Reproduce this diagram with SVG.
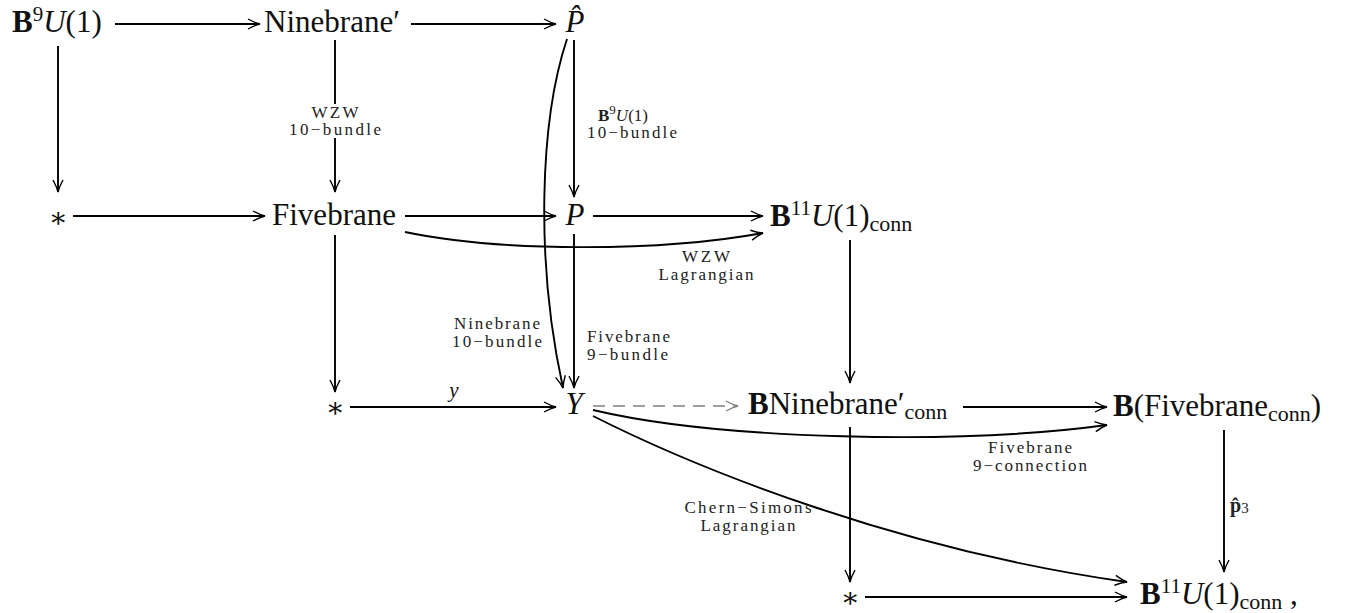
<svg xmlns="http://www.w3.org/2000/svg" width="1360" height="613" viewBox="0 0 1360 613">
<defs>
<marker id="ah" viewBox="-14 -7 16 14" markerWidth="16" markerHeight="14" refX="0" refY="0" orient="auto" markerUnits="userSpaceOnUse">
<path d="M-12,-5 Q-5,-1.2 0,0 Q-5,1.2 -12,5" fill="none" stroke="#000" stroke-width="1.4"/>
</marker>
<marker id="ahg" viewBox="-14 -7 16 14" markerWidth="16" markerHeight="14" refX="0" refY="0" orient="auto" markerUnits="userSpaceOnUse">
<path d="M-12,-5 Q-5,-1.2 0,0 Q-5,1.2 -12,5" fill="none" stroke="#808080" stroke-width="1.4"/>
</marker>
</defs>
<style>
.n{font-family:"Liberation Serif","DejaVu Serif",serif;font-size:31px;fill:#111}
.b{font-weight:bold}
.i{font-style:italic}
.sup{font-size:21px}
.sub{font-size:22px}
.l{font-family:"Liberation Serif","DejaVu Serif",serif;font-size:17px;fill:#222}
.yl{font-family:"Liberation Serif","DejaVu Serif",serif;font-size:21px;font-style:italic;fill:#111}
.c{fill:none;stroke:#000;stroke-width:1.9;marker-end:url(#ah)}
.d{fill:none;stroke:#808080;stroke-width:1.7;stroke-dasharray:12 8;marker-end:url(#ahg)}
.ast{font-family:"DejaVu Serif",serif;font-size:28px;fill:#111}
</style>

<g id="connectors">
<line class="c" x1="115" y1="24" x2="260" y2="24"/>
<line class="c" x1="411" y1="24" x2="556" y2="24"/>
<line class="c" x1="58" y1="46" x2="58" y2="192"/>
<line class="c" x1="335" y1="40" x2="335" y2="192"/>
<line class="c" x1="574" y1="40" x2="574" y2="197"/>
<line class="c" x1="73" y1="216" x2="265" y2="216"/>
<line class="c" x1="405" y1="216" x2="556" y2="216"/>
<line class="c" x1="593" y1="216" x2="763" y2="216"/>
<line class="c" x1="335" y1="235" x2="335" y2="392"/>
<line class="c" x1="574" y1="234" x2="574" y2="388"/>
<line class="c" x1="350" y1="407" x2="556" y2="407"/>
<line class="d" x1="593" y1="406" x2="738" y2="406"/>
<line class="c" x1="850" y1="240" x2="850" y2="383"/>
<line class="c" x1="963" y1="407" x2="1107" y2="407"/>
<line class="c" x1="850" y1="427" x2="850" y2="582"/>
<line class="c" x1="865" y1="597" x2="1127" y2="597"/>
<line class="c" x1="1224" y1="430" x2="1224" y2="572"/>
<path class="c" d="M567,39 C540,120 535,260 563,388"/>
<path class="c" d="M405,232 C500,252 660,252 763,233"/>
<path class="c" d="M593,410 C720,440 960,445 1107,425"/>
<path class="c" d="M593,416 C700,470 900,550 1127,582"/>
</g>

<g id="labels">
<rect x="300" y="104" width="70" height="34" fill="#fff"/>
<text class="l" x="335" y="118" text-anchor="middle" textLength="47">WZW</text>
<text class="l" x="335" y="135" text-anchor="middle" textLength="92">10−bundle</text>
<text class="l" x="598" y="121"><tspan class="b">B</tspan><tspan font-size="13" dy="-7">9</tspan><tspan class="i" dy="7">U</tspan>(1)</text>
<text class="l" x="632" y="138" text-anchor="middle" textLength="90">10−bundle</text>
<text class="l" x="497" y="329" text-anchor="middle" textLength="86">Ninebrane</text>
<text class="l" x="497" y="347" text-anchor="middle" textLength="90">10−bundle</text>
<text class="l" x="587" y="342" textLength="83">Fivebrane</text>
<text class="l" x="587" y="360" textLength="81">9−bundle</text>
<text class="l" x="706" y="262" text-anchor="middle" textLength="48">WZW</text>
<text class="l" x="706" y="280" text-anchor="middle" textLength="95">Lagrangian</text>
<text class="yl" x="454" y="397" text-anchor="middle">y</text>
<text class="l" x="748" y="513" text-anchor="middle" textLength="127">Chern−Simons</text>
<text class="l" x="748" y="531" text-anchor="middle" textLength="95">Lagrangian</text>
<text class="l" x="1030" y="453" text-anchor="middle" textLength="84">Fivebrane</text>
<text class="l" x="1030" y="471" text-anchor="middle" textLength="114">9−connection</text>
<text class="l" x="1230" y="512"><tspan class="b" font-size="20">p̂</tspan><tspan font-size="15" dy="1">3</tspan></text>
</g>

<g id="n-b9u1"><text class="n" x="12" y="32"><tspan class="b">B</tspan><tspan class="sup" dy="-11">9</tspan><tspan class="i" dy="11">U</tspan>(1)</text></g>
<g id="n-ninebrane-prime"><text class="n" x="332" y="32" text-anchor="middle">Ninebrane′</text></g>
<g id="n-phat"><text class="n i" x="575" y="32" text-anchor="middle">P̂</text></g>
<g id="n-star1"><text class="ast" x="58" y="227" text-anchor="middle">∗</text></g>
<g id="n-fivebrane"><text class="n" x="334" y="225" text-anchor="middle">Fivebrane</text></g>
<g id="n-p"><text class="n i" x="575" y="225" text-anchor="middle">P</text></g>
<g id="n-b11-top"><text class="n" x="770" y="226"><tspan class="b">B</tspan><tspan class="sup" dy="-11">11</tspan><tspan class="i" dy="11">U</tspan>(1)<tspan class="sub" dy="5">conn</tspan></text></g>
<g id="n-star2"><text class="ast" x="335" y="417" text-anchor="middle">∗</text></g>
<g id="n-y"><text class="n i" x="574" y="414" text-anchor="middle">Y</text></g>
<g id="n-bninebrane"><text class="n" x="748" y="414"><tspan class="b">B</tspan>Ninebrane′<tspan class="sub" dy="5">conn</tspan></text></g>
<g id="n-bfivebrane"><text class="n" x="1113" y="416"><tspan class="b">B</tspan>(Fivebrane<tspan class="sub" dy="5">conn</tspan><tspan dy="-5">)</tspan></text></g>
<g id="n-star3"><text class="ast" x="850" y="607" text-anchor="middle">∗</text></g>
<g id="n-b11-bottom"><text class="n" x="1140" y="604"><tspan class="b">B</tspan><tspan class="sup" dy="-11">11</tspan><tspan class="i" dy="11">U</tspan>(1)<tspan class="sub" dy="5">conn</tspan><tspan dy="-5"> ,</tspan></text></g>
</svg>
